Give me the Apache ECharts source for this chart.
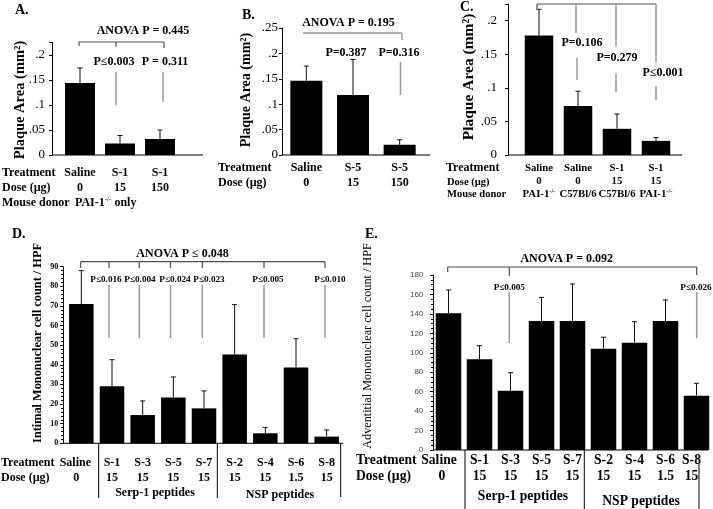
<!DOCTYPE html>
<html><head><meta charset="utf-8">
<script src="https://cdn.jsdelivr.net/npm/echarts@6/dist/echarts.min.js"></script>
<style>html,body{margin:0;padding:0;background:#fff}#c{width:713px;height:509px}</style>
</head><body><div id="c"></div><script>
// ---------- data ----------
const catA = ['Saline', 'S-1', 'S-1'];
const doseA = ['0', '15', '150'];
const valA = [0.144, 0.023, 0.032];
const errA = [0.174, 0.039, 0.050];

const catB = ['Saline', 'S-5', 'S-5'];
const doseB = ['0', '15', '150'];
const valB = [0.146, 0.118, 0.020];
const errB = [0.175, 0.188, 0.030];

const catC = ['Saline', 'Saline', 'S-1', 'S-1'];
const doseC = ['0', '0', '15', '15'];
const donorC = ['PAI-1-/-', 'C57Bl/6', 'C57Bl/6', 'PAI-1-/-'];
const valC = [0.178, 0.073, 0.039, 0.021];
const errC = [0.217, 0.095, 0.061, 0.026];

const ticksABC = ['0', '.05', '.1', '.15', '.2', '.25'];

const catD = ['Saline', 'S-1', 'S-3', 'S-5', 'S-7', 'S-2', 'S-4', 'S-6', 'S-8'];
const doseD = ['0', '15', '15', '15', '15', '15', '15', '1.5', '15'];
const valD = [71, 29.1, 14.4, 23.3, 17.8, 45.2, 5.1, 38.6, 3.4];
const errD = [88, 42.6, 21.6, 33.8, 26.7, 70.7, 8.1, 53.3, 6.8];

const catE = ['Saline', 'S-1', 'S-3', 'S-5', 'S-7', 'S-2', 'S-4', 'S-6', 'S-8'];
const doseE = ['0', '15', '15', '15', '15', '15', '15', '1.5', '15'];
const valE = [140.6, 93.3, 61, 132.7, 132.7, 104.2, 110.4, 132.7, 55.9];
const errE = [164.6, 107.3, 79.5, 157, 170.8, 116, 132, 154.3, 68.6];

// ---------- helpers ----------
const FS = '"Liberation Serif","Times New Roman",serif';
const FSS = '"Liberation Sans",Arial,sans-serif';
function T(t, x, y, size, o) {
  o = o || {};
  const align = o.align || 'center';
  return {
    type: 'text', x: x, y: y, rotation: o.rot || 0, silent: true, z: 10,
    style: {
      text: t, font: (o.weight || 'bold') + ' ' + size + 'px ' + (o.family || FS),
      fill: o.color || '#000', textAlign: align, align: align,
      textVerticalAlign: 'middle', verticalAlign: 'middle', rich: o.rich
    }
  };
}
function L(x1, y1, x2, y2, c, w) {
  return { type: 'line', silent: true, z: 9, shape: { x1: x1, y1: y1, x2: x2, y2: y2 },
    style: { stroke: c || '#000', lineWidth: w || 1 } };
}
const DK = '#505050', GR = '#9a9a9a';
function tickFmt(step) {
  return function (v) {
    const i = Math.round(v / step);
    if (Math.abs(v - i * step) > 1e-9) return '';
    return ticksABC[i] || '';
  };
}
function supFmt(s) {
  return s.endsWith('-/-') ? '{n|' + s.slice(0, -3) + '}{s|-/-}' : '{n|' + s + '}';
}
function errRender(params, api) {
  const top = api.coord([api.value(0), api.value(2)]);
  const bot = api.coord([api.value(0), api.value(1)]);
  const w = 2.5;
  return { type: 'group', children: [
    { type: 'line', shape: { x1: top[0], y1: bot[1], x2: top[0], y2: top[1] }, style: { stroke: '#111', lineWidth: 1 } },
    { type: 'line', shape: { x1: top[0] - w, y1: top[1], x2: top[0] + w, y2: top[1] }, style: { stroke: '#111', lineWidth: 1 } }
  ] };
}
function xAx(gi, cats, fmt, size, lh, margin, rich) {
  return { gridIndex: gi, type: 'category', data: cats, axisLine: { show: false }, axisTick: { show: false },
    axisLabel: { interval: 0, formatter: fmt, fontFamily: FS, fontWeight: 'bold', fontSize: size, lineHeight: lh,
      margin: margin, color: '#000', rich: rich } };
}
function yAx(gi, max, interval, offset, label) {
  return Object.assign({ gridIndex: gi, type: 'value', min: 0, max: max, interval: interval, offset: offset,
    axisLine: { show: true, lineStyle: { color: '#000', width: 1 } },
    axisTick: { show: true, length: 3, lineStyle: { color: '#000' } },
    splitLine: { show: false } }, label);
}
function bars(gi, vals, bw) {
  return { type: 'bar', xAxisIndex: gi, yAxisIndex: gi, data: vals, barWidth: bw,
    itemStyle: { color: '#000' }, silent: true };
}
function errs(gi, vals, errv) {
  return { type: 'custom', xAxisIndex: gi, yAxisIndex: gi, renderItem: errRender, silent: true, z: 3,
    data: vals.map((v, i) => [i, v, errv[i]]) };
}
// shifted first/last category labels (rich padding moves them left)
function richShift(size, lh, p1, p2, p3) {
  const base = { fontFamily: FS, fontWeight: 'bold', fontSize: size, lineHeight: lh };
  return { a: Object.assign({ padding: [0, p1, 0, 0] }, base), b: Object.assign({ padding: [0, p2, 0, 0] }, base),
    z: Object.assign({ padding: [0, p3 || 0, 0, 0] }, base) };
}
function shiftFmt(cats, doses, shiftLast) {
  return (v, i) => {
    if (i === 0) return '{a|' + cats[i] + '}\n{b|' + doses[i] + '}';
    if (shiftLast && i === cats.length - 1) return '{z|' + cats[i] + '}\n{z|' + doses[i] + '}';
    return cats[i] + '\n' + doses[i];
  };
}

// ---------- annotations ----------
const g = [];
g.push(T('A.', 15, 10, 14, { align: 'left' }), T('B.', 242, 15, 14, { align: 'left' }),
  T('C.', 460, 7, 14, { align: 'left' }), T('D.', 12, 234, 14, { align: 'left' }), T('E.', 365, 234, 14, { align: 'left' }));
g.push(T('Plaque Area (mm²)', 20, 100, 14.5, { rot: Math.PI / 2 }));
g.push(T('Plaque Area (mm²)', 246, 90, 14, { rot: Math.PI / 2 }));
g.push(T('Plaque Area (mm²)', 469, 77, 15.5, { rot: Math.PI / 2 }));
g.push(T('Intimal Mononuclear cell count / HPF', 38, 343, 12.3, { rot: Math.PI / 2 }));
g.push(T('Adventitial Mononuclear cell count / HPF', 368, 346, 12.2, { rot: Math.PI / 2, weight: 'normal' }));
g.push(T('Treatment', 2, 173, 12, { align: 'left' }), T('Dose (µg)', 2, 188, 12, { align: 'left' }),
  T('Mouse donor', 2, 203, 12, { align: 'left' }));
g.push(T('{n|PAI-1}{s|-/-}{n| only}', 75, 203, 12, { align: 'left', rich: {
  n: { fontFamily: FS, fontWeight: 'bold', fontSize: 12, lineHeight: 15 },
  s: { fontFamily: FS, fontWeight: 'bold', fontSize: 7, lineHeight: 15, verticalAlign: 'top' } } }));
g.push(T('Treatment', 218, 168, 12, { align: 'left' }), T('Dose (µg)', 218, 183, 12, { align: 'left' }));
g.push(T('Treatment', 446, 168, 12, { align: 'left' }), T('Dose (µg)', 447, 182, 10.5, { align: 'left' }),
  T('Mouse donor', 447, 194.7, 10.5, { align: 'left' }));
g.push(T('Treatment', 1, 463.3, 12, { align: 'left' }), T('Dose (µg)', 1, 478, 12, { align: 'left' }));
g.push(T('Treatment', 356, 460, 13.6, { align: 'left' }), T('Dose (µg)', 356, 476.7, 13.6, { align: 'left' }));
g.push(L(52, 155, 203, 155), L(282, 155, 430, 155), L(508, 155, 682, 155), L(63, 443.3, 343, 443.3), L(433, 450, 708, 450));
g.push(L(98.7, 444, 98.7, 498), L(217.3, 444, 217.3, 498), L(340.7, 444, 340.7, 497));
g.push(T('Serp-1 peptides', 155, 493, 12), T('NSP peptides', 280, 495, 12));
g.push(L(465, 450, 465, 510), L(584.3, 450, 584.3, 510), L(699, 463, 699, 510));
g.push(T('Serp-1 peptides', 523, 496.7, 13.6), T('NSP peptides', 641, 501.7, 13.6));
// panel A brackets
g.push(T('ANOVA P = 0.445', 143, 31, 12));
g.push(L(79, 42, 164, 42, DK, 1.2), L(79, 42, 79, 46, DK, 1.2), L(116, 42, 116, 47, DK, 1.2), L(164, 42, 164, 48, DK, 1.2));
g.push(T('P≤0.003', 114, 62, 12), T('P = 0.311', 165, 62, 12));
g.push(L(116, 72, 116, 105, GR, 1.5), L(163, 72, 163, 102, GR, 1.5));
// panel B
g.push(T('ANOVA P = 0.195', 348.5, 22.5, 12));
g.push(L(303, 33, 402, 33, GR, 1.5), L(402, 33, 402, 40, GR, 1.5));
g.push(T('P=0.387', 346, 53.3, 12), T('P=0.316', 399, 53.3, 12));
g.push(L(400.5, 62, 400.5, 95, GR, 1.5));
// panel C
g.push(L(537, 4, 656, 4, DK, 1.2), L(537, 4, 537, 9, DK, 1.2), L(576, 4, 576, 33, GR, 1.5),
  L(616, 4, 616, 47, GR, 1.5), L(656, 4, 656, 63, GR, 1.5));
g.push(T('P=0.106', 582, 43, 12), T('P=0.279', 617, 58, 12), T('P≤0.001', 663, 73, 12));
g.push(L(577, 58, 577, 80, GR, 1.5), L(616, 73, 616, 92, GR, 1.5), L(656, 86, 656, 100, GR, 1.5));
// panel D
g.push(T('ANOVA P ≤ 0.048', 182.5, 254, 12));
g.push(L(80.7, 261.7, 325, 261.7, DK, 1.2));
[80.7, 109, 139.3, 170.5, 202.3, 264, 325].forEach(x => g.push(L(x, 261.7, x, 268, DK, 1.2)));
[['P≤0.016', 106], ['P≤0.004', 140], ['P≤0.024', 175], ['P≤0.023', 209], ['P≤0.005', 268], ['P≤0.010', 330]]
  .forEach(p => g.push(T(p[0], p[1], 279.3, 9.2)));
[109, 139.3, 170.5, 202.3, 264, 325].forEach(x => g.push(L(x, 285, x, 338, GR, 1.5)));
// panel E
g.push(T('ANOVA P = 0.092', 566.7, 259.3, 12));
g.push(L(447.7, 267, 696.7, 267, DK, 1.2), L(447.7, 267, 447.7, 272, DK, 1.2), L(509.3, 267, 509.3, 276, DK, 1.2),
  L(696.7, 267, 696.7, 275, DK, 1.2));
g.push(T('P≤0.005', 509.3, 287.3, 9.2), T('P≤0.026', 696, 287.3, 9.2));
g.push(L(509.3, 292, 509.3, 343, GR, 1.5), L(696.7, 292, 696.7, 338, GR, 1.5));

// ---------- chart ----------
const chart = echarts.init(document.getElementById('c'), null, { renderer: 'canvas' });
const lblABC = (step, margin) => ({ axisLabel: { formatter: tickFmt(step), fontFamily: FS, fontSize: 13, color: '#000', margin: margin } });
const richC = {
  n: { fontFamily: FS, fontWeight: 'bold', fontSize: 10.8, lineHeight: 13.3 },
  s: { fontFamily: FS, fontWeight: 'bold', fontSize: 6.5, lineHeight: 13.3, verticalAlign: 'top' }
};
chart.setOption({
  animation: false,
  backgroundColor: '#fff',
  grid: [
    { left: 60, top: 42.5, width: 120, height: 112.5, outerBoundsMode: 'none' },
    { left: 283, top: 28, width: 140, height: 127, outerBoundsMode: 'none' },
    { left: 519.5, top: 3.9, width: 156, height: 151.1, outerBoundsMode: 'none' },
    { left: 66, top: 266.7, width: 276, height: 176.6, outerBoundsMode: 'none' },
    { left: 433, top: 275, width: 279, height: 175, outerBoundsMode: 'none' }
  ],
  xAxis: [
    xAx(0, catA, (v, i) => catA[i] + '\n' + doseA[i], 12, 15, 10.5),
    xAx(1, catB, (v, i) => catB[i] + '\n' + doseB[i], 12, 15, 5.5),
    xAx(2, catC, (v, i) => '{n|' + catC[i] + '}\n{n|' + doseC[i] + '}\n' + supFmt(donorC[i]), 10.8, 13.3, 6.4, richC),
    xAx(3, catD, shiftFmt(catD, doseD, false), 12, 14.7, 12.6, richShift(12, 14.7, 12, 10)),
    xAx(4, catE, shiftFmt(catE, doseE, true), 13.6, 16.7, 1.7, richShift(13.6, 16.7, 19, 13, 10))
  ],
  yAxis: [
    yAx(0, 0.225, 0.05, 8, lblABC(0.05, 7)),
    yAx(1, 0.25, 0.05, 1, lblABC(0.05, 4)),
    yAx(2, 0.225, 0.05, 11.5, lblABC(0.05, 11)),
    yAx(3, 90, 10, 3, { axisLabel: { fontFamily: FS, fontWeight: 'bold', fontSize: 8, color: '#000', margin: 4.7 },
      minorTick: { show: true, splitNumber: 5, length: 2, lineStyle: { color: '#000' } } }),
    yAx(4, 180, 20, 0, { axisLabel: { fontFamily: FSS, fontSize: 8, color: '#444', margin: 9.7 },
      minorTick: { show: true, splitNumber: 4, length: 2, lineStyle: { color: '#000' } } })
  ],
  series: [
    bars(0, valA, 30), errs(0, valA, errA),
    bars(1, valB, 32), errs(1, valB, errB),
    bars(2, valC, 28.5), errs(2, valC, errC),
    bars(3, valD, 24.5), errs(3, valD, errD),
    bars(4, valE, 25.5), errs(4, valE, errE)
  ],
  graphic: g
});
</script></body></html>
